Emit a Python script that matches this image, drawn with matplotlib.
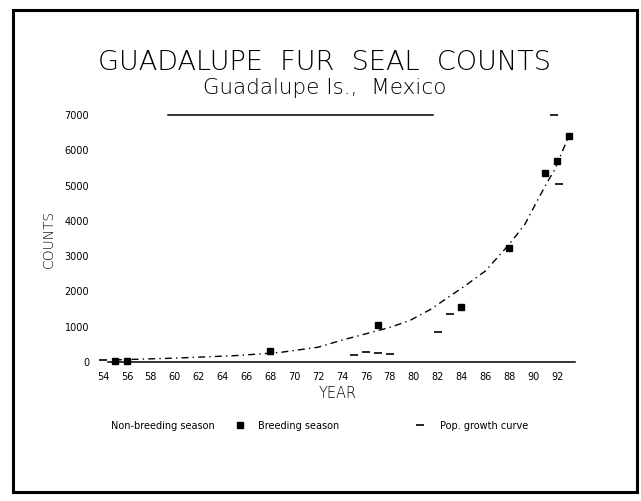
import matplotlib
matplotlib.use("Agg")
import matplotlib.pyplot as plt
from matplotlib.lines import Line2D
from matplotlib.patches import Rectangle

# Breeding season counts (filled squares)
breed_year = [1955, 1956, 1968, 1977, 1984, 1988, 1991, 1992, 1993]
breed_count = [15, 40, 310, 1040, 1550, 3230, 5365, 5700, 6400]

# Non-breeding season counts (small dashes)
nonbreed_year = [1954, 1975, 1976, 1977, 1978, 1982, 1983, 1991.7, 1992.2]
nonbreed_count = [60, 200, 280, 250, 230, 850, 1350, 6990, 5040]

# Population growth curve
curve_year = [1955, 1960, 1965, 1968, 1969, 1972, 1974, 1978, 1979.7, 1981.4,
              1984.3, 1986, 1988, 1989.3, 1990.4, 1991.2, 1991.8, 1992.7, 1993]
curve_count = [60, 110, 180, 250, 280, 420, 620, 980, 1180, 1490,
               2160, 2580, 3340, 3900, 4610, 5110, 5450, 6180, 6450]

year_ticks = list(range(1954, 1993, 2))
year_labels = [str(y % 100) for y in year_ticks]
count_ticks = [0, 1000, 2000, 3000, 4000, 5000, 6000, 7000]

plt.rcParams['font.family'] = ['DejaVu Sans']

fig = plt.figure(figsize=(6.41, 5.01), dpi=100)
ax = fig.add_axes([0.1476, 0.2774, 0.7588, 0.4930])

ax.plot(curve_year, curve_count, color="black", lw=1, ls=(0, (5, 3, 1, 3)))
ax.plot(nonbreed_year, nonbreed_count, ls="none", marker="_", ms=6, mew=1.2,
        color="black", clip_on=False)
ax.plot(breed_year, breed_count, ls="none", marker="s", ms=5, color="black",
        clip_on=False)

ax.set_xlim(1953.3, 1994)
ax.set_ylim(0, 7000)
ax.set_xticks(year_ticks)
ax.set_xticklabels(year_labels)
ax.set_yticks(count_ticks)
ax.tick_params(length=0, labelsize=7)
ax.tick_params(axis="x", pad=7)
ax.tick_params(axis="y", pad=4)

for s in ["left", "right"]:
    ax.spines[s].set_visible(False)
ax.spines["bottom"].set_bounds(1954.4, 1993.5)
ax.spines["top"].set_bounds(1959.4, 1981.6)
ax.spines["bottom"].set_linewidth(1.1)
ax.spines["top"].set_linewidth(1.1)

ax.set_xlabel("YEAR", fontsize=10.5, labelpad=3, fontweight="light")
ax.set_ylabel("COUNTS", fontsize=10, labelpad=6, fontweight="light")

fig.text(0.506, 0.876, "GUADALUPE  FUR  SEAL  COUNTS", ha="center",
         va="center", fontsize=19.5, fontweight="light")
fig.text(0.506, 0.824, "Guadalupe Is.,  Mexico", ha="center", va="center",
         fontsize=15.5, fontweight="light")

# legend row: two pieces so the gaps can differ like in the original
h_nb = Line2D([], [], ls="none", marker="")
h_br = Line2D([], [], ls="none", marker="s", ms=5, color="black")
h_cv = Line2D([], [], ls="none", marker="_", ms=6, mew=1.2, color="black")
fig.legend([h_nb, h_br], ["Non-breeding season", "Breeding season"],
           loc="center left", bbox_to_anchor=(0.126, 0.15), ncol=2,
           frameon=False, fontsize=7, handlelength=0.6,
           handletextpad=1.6, columnspacing=2.3)
fig.legend([h_cv], ["Pop. growth curve"], loc="center left",
           bbox_to_anchor=(0.636, 0.15), frameon=False, fontsize=7,
           handlelength=0.8, handletextpad=1.6)

fig.add_artist(Rectangle((13 / 641, 9 / 501), 624 / 641, 482 / 501,
                         transform=fig.transFigure, fill=False,
                         edgecolor="black", lw=2.2))

fig.savefig("out.png", dpi=100)
